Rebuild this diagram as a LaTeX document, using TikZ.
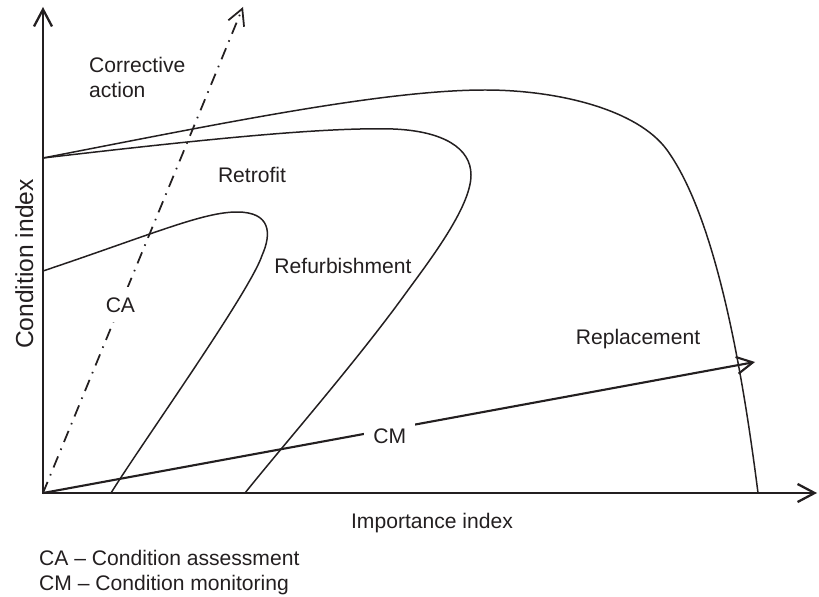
\documentclass[tikz,border=0pt]{standalone}
\usepackage{fontspec}
\setmainfont{Liberation Sans}
\usepackage{tikz}
\usepackage{xcolor}
\usetikzlibrary{arrows.meta,positioning,calc}
\definecolor{ink}{HTML}{231F20}
\tikzset{
  axisline/.style={{Straight Barb[length=3.4mm,width=3.6mm]}-{Straight Barb[length=3.4mm,width=3.6mm]},
                   line width=1.3pt,draw=ink},
  zoneline/.style={line width=0.85pt,draw=ink,line join=round},
  cmline/.style={-{Straight Barb[length=3.2mm,width=3.4mm]},line width=1.2pt,draw=ink},
  caline/.style={-{Straight Barb[length=3.2mm,width=3.4mm]},line width=1pt,draw=ink,
                 dash pattern=on 6.8pt off 4pt on 0.9pt off 4pt},
  lbl/.style={font=\fontsize{12}{14.2}\selectfont,text=ink},
  gaplbl/.style={lbl,fill=white,inner xsep=0.18cm,inner ysep=0.2cm}
}

\begin{document}
\begin{tikzpicture}[x=1cm,y=1cm]
    \useasboundingbox (-0.86,-2.06) rectangle (15.52,9.86);

    % axes
    \coordinate (O) at (0,0);
    \coordinate (ytip) at (0,9.72);
    \coordinate (xtip) at (15.48,0);
    \draw[axisline] (ytip) -- (O) -- (xtip);

    \node[lbl,font=\fontsize{14}{16}\selectfont,rotate=90,anchor=base] (ylbl)
      at (-0.2,4.58) {Condition index};
    \node[lbl,anchor=base] (xlbl) at (7.78,-0.7) {Importance index};

    % zone boundaries
    \draw[zoneline] (0,6.7) .. controls (3.5,7.38) and (6.8,8.06) .. (8.84,8.06)
      .. controls (10.3,8.06) and (11.89,7.67) .. (12.48,6.86)
      .. controls (13.5,5.45) and (14.02,2.2) .. (14.3,0);
    \draw[zoneline] (0,6.7) .. controls (3.2,7.07) and (5.6,7.32) .. (7.0,7.28)
      .. controls (8.0,7.24) and (8.56,6.9) .. (8.56,6.36)
      .. controls (8.56,5.7) and (7.67,4.57) .. (7.2,3.92)
      .. controls (6.2,2.55) and (4.8,0.95) .. (4.04,0);
    \draw[zoneline] (0,4.44) .. controls (2.2,5.18) and (3.2,5.62) .. (3.88,5.62)
      .. controls (4.55,5.62) and (4.58,5.2) .. (4.38,4.75)
      .. controls (4.13,4.01) and (1.96,0.97) .. (1.36,0);

    % zone names
    \node[lbl,anchor=west,align=left] (corr) at (0.8,8.32) {Corrective\\action};
    \node[lbl,anchor=base] (retro) at (4.18,6.2) {Retrofit};
    \node[lbl,anchor=base] (refurb) at (6.0,4.4) {Refurbishment};
    \node[lbl,anchor=base] (repl) at (11.9,2.98) {Replacement};

    % assessment and monitoring directions
    \coordinate (catip) at (4.0,9.72);
    \coordinate (cmtip) at (14.24,2.62);
    \draw[caline] (O) -- node[gaplbl,pos=0.387] (ca) {CA} (catip);
    \draw[cmline] (O) -- node[gaplbl,pos=0.487,yshift=-0.14cm] (cm) {CM} (cmtip);

    \node[lbl,anchor=west,align=left] (legend) at (-0.2,-1.6)
      {CA \textendash{} Condition assessment\\CM \textendash{} Condition monitoring};
\end{tikzpicture}
\end{document}
